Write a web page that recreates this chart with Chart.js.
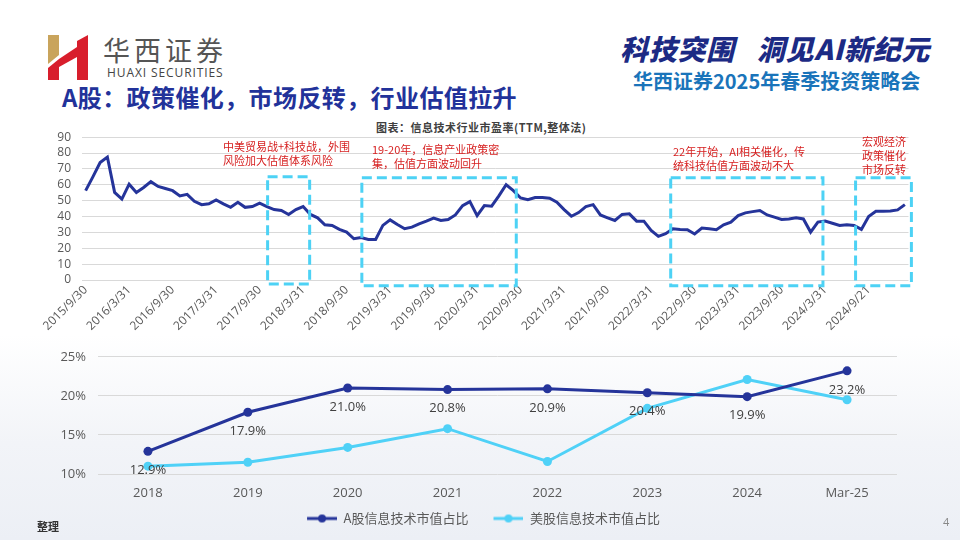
<!DOCTYPE html>
<html>
<head>
<meta charset="utf-8">
<script src="https://cdn.jsdelivr.net/npm/chart.js@4.4.1/dist/chart.umd.min.js"></script>
<style>
	body { margin: 0; width: 960px; height: 540px; overflow: hidden; position: relative;
		font-family: "Noto Sans CJK SC", sans-serif;
		background: linear-gradient(to bottom, #ffffff 0%, #ffffff 62%, #f2f4f8 82%, #eceff5 100%); }
	.abs { position: absolute; white-space: nowrap; line-height: 1; }
	.brand-cn { left: 103px; top: 36px; font-size: 27px; color: #555; letter-spacing: 4px; }
	.brand-en { left: 107px; top: 67px; font-size: 12px; color: #444; font-family: "Open Sans", sans-serif; letter-spacing: 0.9px; }
	.title { left: 62px; top: 85px; font-size: 24px; font-weight: bold; color: #22329a; letter-spacing: 0.4px; }
	.slogan { left: 620px; top: 34px; font-size: 28px; font-weight: 900; font-style: italic; color: #1c2a84; letter-spacing: 0.7px; }
	.slogan span { display: inline-block; width: 22px; }
	.meeting { left: 633px; top: 71px; font-size: 20px; font-weight: bold; color: #1a74ba; }
	.chart-title { left: 376px; top: 122px; font-size: 11px; font-weight: bold; color: #404040; letter-spacing: 0.5px; }
	.note { font-size: 11px; line-height: 14px; color: #d62020; }
	.foot { left: 37px; top: 521px; font-size: 11px; font-weight: bold; color: #333; }
	.page { left: 943px; top: 516px; font-size: 11px; color: #888; font-family: "Open Sans", sans-serif; }
	.box { position: absolute; }
</style>
</head>
<body>
<svg class="box" style="left:46px;top:33px" width="46" height="50">
	<polygon fill="#c9a45c" points="2,2 13,2 13,22 2,31"/>
	<polygon fill="#d81e2c" points="2,35 13,26 13,47 2,47"/>
	<polygon fill="#d81e2c" points="13,26 31,14 31,24 13,34"/>
	<polygon fill="#d81e2c" points="31,8 42,2 42,47 31,47"/>
</svg>
<div class="abs brand-cn">华西证券</div>
<div class="abs brand-en">HUAXI SECURITIES</div>
<div class="abs title">A股：政策催化，市场反转，行业估值拉升</div>
<div class="abs slogan">科技突围<span></span>洞见AI新纪元</div>
<div class="abs meeting">华西证券2025年春季投资策略会</div>
<div class="abs chart-title">图表：信息技术行业市盈率(TTM,整体法)</div>

<div class="box" style="left:20px;top:119px;width:910px;height:221px"><canvas id="peChart"></canvas></div>
<div class="box" style="left:20px;top:337px;width:900px;height:203px"><canvas id="shareChart"></canvas></div>

<div class="abs note" style="left:223px;top:139px">中美贸易战+科技战，外围<br>风险加大估值体系风险</div>
<div class="abs note" style="left:372px;top:142px">19-20年，信息产业政策密<br>集，估值方面波动回升</div>
<div class="abs note" style="left:673px;top:144px">22年开始，AI相关催化，传<br>统科技估值方面波动不大</div>
<div class="abs note" style="left:862px;top:134px">宏观经济<br>政策催化<br>市场反转</div>
<div class="abs foot">整理</div>
<div class="abs page">4</div>

<script>
// PE (TTM) of the IT sector, monthly from 2015/9
const peValues = [
	56.3, 65, 74, 77.5, 55.2, 51, 60.4, 55.2, 58.3, 62, 59, 57.7,
	56.3, 53, 54, 49.6, 47.5, 48, 50.4, 48, 45.8, 49, 45.8, 46.3,
	48.5, 46.3, 44.4, 43.8, 41.3, 44.4, 46.3, 41.3, 39.2, 34.8, 34.4, 31.9,
	30.2, 26, 26.7, 25.6, 25.6, 34.4, 37.9, 35, 32.3, 33.3, 35.4, 37.1,
	39, 37.5, 38.1, 41, 46.9, 49.4, 40.6, 46.9, 46.5, 53, 60, 56.3,
	51.7, 50.6, 52, 52, 51.5, 49, 44.4, 40.2, 42.5, 46.3, 47.5, 41,
	39.2, 37.5, 41.3, 41.7, 37.1, 37.1, 31.3, 27.5, 29.2, 32.3, 31.9, 31.7,
	29, 32.7, 32.3, 31.7, 34.8, 36.5, 40.6, 42.3, 43.1, 43.8, 41, 39.6,
	38.1, 38.5, 39.2, 38.5, 30.2, 36.5, 37.1, 35.8, 34.4, 34.8, 34.4, 31.9,
	40, 43.3, 43.3, 43.5, 44.2, 47.5
];
const peTickLabels = ['2015/9/30', '2016/3/31', '2016/9/30', '2017/3/31', '2017/9/30', '2018/3/31',
	'2018/9/30', '2019/3/31', '2019/9/30', '2020/3/31', '2020/9/30', '2021/3/31', '2021/9/30',
	'2022/3/31', '2022/9/30', '2023/3/31', '2023/9/30', '2024/3/31', '2024/9/21'];
const peMonths = peValues.map((v, i) => {
	const m = 8 + i;
	return (2015 + Math.floor(m / 12)) + '/' + (m % 12 + 1);
});
// dashed boxes: [from index, to index, top value, bottom value]
const peBoxes = [
	[25.1, 30.9, 65, -2.5],
	[38.1, 59.4, 64.4, -3.7],
	[80.7, 101.7, 64.4, -3.7],
	[106.2, 113.9, 64.4, -3.7]
];

// share of IT in total market cap
const shareYears = ['2018', '2019', '2020', '2021', '2022', '2023', '2024', 'Mar-25'];
const aShare = [12.9, 17.9, 21.0, 20.8, 20.9, 20.4, 19.9, 23.2];
const usShare = [11.0, 11.5, 13.4, 15.8, 11.6, 18.4, 22.1, 19.5];

const darkBlue = '#25349a';
const lightBlue = '#4fd1f7';
const tickGray = '#595959';
const gridGray = '#d9d9d9';

const dashBoxes = {
	id: 'dashBoxes',
	afterDatasetsDraw(chart) {
		const ctx = chart.ctx;
		const x = chart.scales.x, y = chart.scales.y;
		ctx.save();
		ctx.strokeStyle = '#4dd2f5';
		ctx.lineWidth = 3;
		ctx.setLineDash([10, 5]);
		peBoxes.forEach(b => {
			const x0 = x.getPixelForValue(b[0]), x1 = x.getPixelForValue(b[1]);
			const y0 = y.getPixelForValue(b[2]), y1 = y.getPixelForValue(b[3]);
			ctx.strokeRect(x0, y0, x1 - x0, y1 - y0);
		});
		ctx.restore();
	}
};

new Chart(document.getElementById('peChart'), {
	type: 'line',
	data: {
		labels: peMonths,
		datasets: [{
			data: peValues,
			borderColor: darkBlue,
			borderWidth: 3,
			pointRadius: 0,
			tension: 0
		}]
	},
	options: {
		responsive: true,
		maintainAspectRatio: false,
		animation: false,
		layout: { padding: { top: 0, right: 21.5, bottom: 0, left: 0 } },
		plugins: { legend: { display: false }, tooltip: { enabled: false } },
		scales: {
			x: {
				offset: true,
				grid: { display: false, drawTicks: false },
				border: { display: false },
				ticks: {
					autoSkip: false, maxRotation: 45, minRotation: 45, padding: 3,
					color: tickGray, font: { family: 'Open Sans', size: 12 },
					callback: (v, i) => (i % 6 === 0 ? peTickLabels[i / 6] : '')
				},
				afterFit: s => { s.height = 60; }
			},
			y: {
				min: 0, max: 90,
				grid: { color: gridGray, drawTicks: false },
				border: { display: false },
				ticks: { stepSize: 10, autoSkip: false, padding: 11, color: tickGray, font: { family: 'Open Sans', size: 12 } },
				afterFit: s => { s.width = 62; }
			}
		}
	},
	plugins: [dashBoxes]
});

function legendMark(color) {
	const c = document.createElement('canvas');
	c.width = 45; c.height = 10;
	const g = c.getContext('2d');
	g.strokeStyle = color; g.lineWidth = 3;
	g.beginPath(); g.moveTo(15, 5); g.lineTo(45, 5); g.stroke();
	g.fillStyle = color;
	g.beginPath(); g.arc(30, 5, 4, 0, Math.PI * 2); g.fill();
	return c;
}

const shareLabels = {
	id: 'shareLabels',
	afterDatasetsDraw(chart) {
		const ctx = chart.ctx;
		const meta = chart.getDatasetMeta(0);
		ctx.save();
		ctx.font = '13px "Open Sans"';
		ctx.fillStyle = '#404040';
		ctx.textAlign = 'center';
		ctx.textBaseline = 'middle';
		meta.data.forEach((pt, i) => {
			ctx.fillText(aShare[i].toFixed(1) + '%', pt.x, pt.y + 19);
		});
		ctx.restore();
	}
};

const marks = [legendMark(darkBlue), legendMark(lightBlue)];

new Chart(document.getElementById('shareChart'), {
	type: 'line',
	data: {
		labels: shareYears,
		datasets: [{
			label: 'A股信息技术市值占比',
			data: aShare,
			borderColor: darkBlue,
			backgroundColor: darkBlue,
			borderWidth: 3,
			pointRadius: 4.5,
			pointBorderWidth: 0,
			tension: 0
		}, {
			label: '美股信息技术市值占比',
			data: usShare,
			borderColor: lightBlue,
			backgroundColor: lightBlue,
			borderWidth: 3,
			pointRadius: 4.5,
			pointBorderWidth: 0,
			tension: 0
		}]
	},
	options: {
		responsive: true,
		maintainAspectRatio: false,
		animation: false,
		layout: { padding: { top: 0, right: 23, bottom: 5, left: 35 } },
		plugins: {
			tooltip: { enabled: false },
			legend: {
				position: 'bottom',
				labels: {
					usePointStyle: true,
					pointStyleWidth: 45,
					padding: 10,
					color: tickGray,
					font: { family: 'Noto Sans CJK SC', size: 13 },
					generateLabels: chart => {
						const items = Chart.defaults.plugins.legend.labels.generateLabels(chart);
						items.forEach((it, i) => { it.pointStyle = marks[i]; });
						return items;
					}
				}
			}
		},
		scales: {
			x: {
				offset: true,
				grid: { display: false, drawTicks: false },
				border: { display: false },
				ticks: { padding: 11, color: tickGray, font: { family: 'Open Sans', size: 13 } },
				afterFit: s => { s.height = 28; }
			},
			y: {
				min: 10, max: 25,
				grid: { color: gridGray, drawTicks: false },
				border: { display: false },
				ticks: { stepSize: 5, autoSkip: false, padding: 12, color: tickGray, font: { family: 'Open Sans', size: 13 },
					callback: v => v + '%' },
				afterFit: s => { s.width = 43; }
			}
		}
	},
	plugins: [shareLabels]
});
</script>
</body>
</html>
